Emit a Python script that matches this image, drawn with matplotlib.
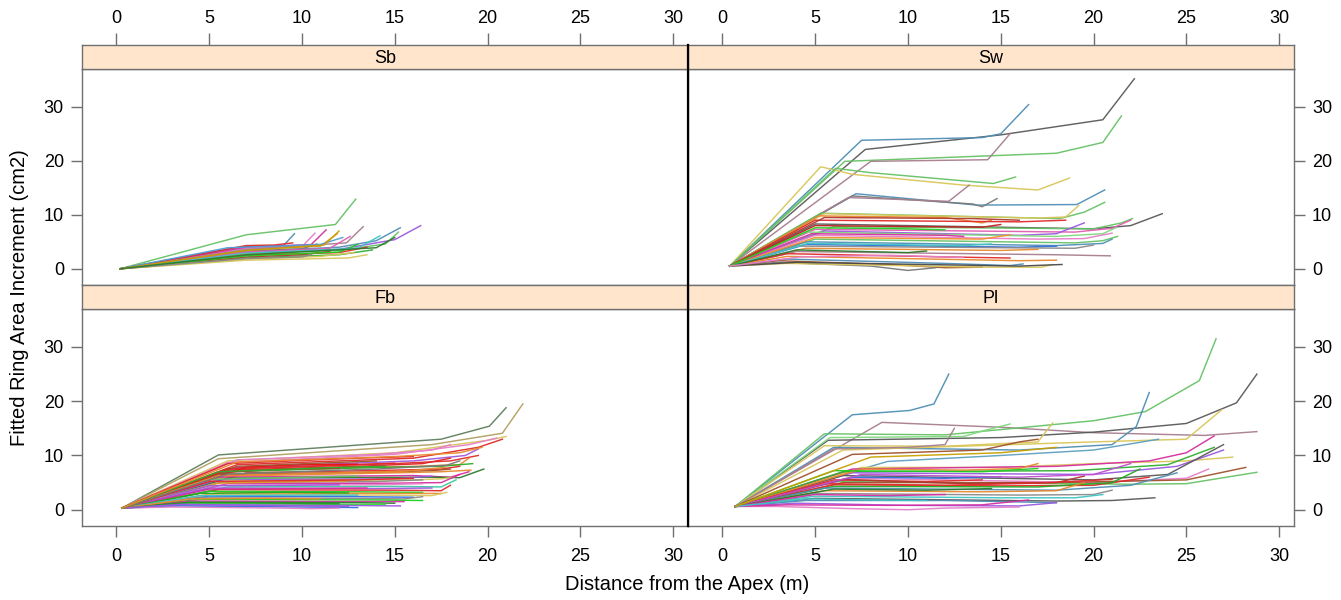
import matplotlib
matplotlib.use("Agg")
import matplotlib.pyplot as plt
from matplotlib.lines import Line2D

plt.rcParams['font.family'] = ['Liberation Sans', 'DejaVu Sans']

# ---------------- data (x = distance from apex, y = fitted ring area increment) ----------------
panel_names = ["Sb", "Sw", "Fb", "Pl"]
x_ticks = [0, 5, 10, 15, 20, 25, 30]
y_ticks = [0, 10, 20, 30]

sb_curves = [
    [(0.2, 0), (7, 6.3), (11.8, 8.2), (12.9, 12.9)],
    [(0.2, 0), (7, 4.2), (9, 4.3), (9.6, 6.5)],
    [(0.2, 0), (7, 3.8), (10, 4.1), (10.7, 6.6)],
    [(0.2, 0), (7, 4.0), (10.5, 4.5), (11.3, 7.2)],
    [(0.2, 0), (7, 3.5), (11, 4.2), (11.9, 6.5)],
    [(0.2, 0), (7, 3.6), (12.4, 4.8), (13.3, 7.8)],
    [(0.2, 0), (7, 3.2), (12, 4.0), (14, 5.2), (15.3, 7.6)],
    [(0.2, 0), (7, 3.0), (12, 3.6), (15, 5.4), (16.4, 8.0)],
    [(0.2, 0), (7, 2.8), (12, 3.4), (14.5, 4.6), (15.2, 6.8)],
    [(0.2, 0), (7, 2.5), (12, 3.0), (13.5, 4.0)],
    [(0.2, 0), (7, 1.6), (12.5, 2.0), (13.5, 2.6)],
    [(0.2, 0), (7, 2.0), (12, 2.6), (13.8, 3.5)],
    [(0.2, 0), (7, 2.2), (10, 2.6), (11.5, 3.2)],
    [(0.2, 0), (7, 3.3), (10, 3.7), (10.8, 4.6)],
    [(0.2, 0), (7, 2.7), (9, 2.9), (10, 3.5)],
    [(0.2, 0), (7, 4.3), (8.5, 4.4), (9.5, 4.8)],
    [(0.2, 0), (7, 1.8), (11, 2.3), (12.8, 3.0)],
    [(0.2, 0), (7, 2.4), (12, 3.1), (13, 4.5)],
    [(0.2, 0), (6, 3.9), (11, 4.5), (12.2, 5.8)],
    [(0.2, 0), (7, 3.1), (11.5, 3.8), (12.6, 6.0)],
    [(0.2, 0), (7, 2.9), (13, 3.8), (14.2, 6.1)],
    [(0.2, 0), (7, 1.9), (10, 2.2), (10.5, 2.6)],
    [(0.2, 0), (7, 3.4), (11.2, 4.4), (12.0, 7.0)],
    [(0.2, 0), (7, 2.6), (14, 3.9), (15.0, 5.8)],
]

sw_curves = [
    [(0.4, 0.5), (7.7, 22.1), (15, 24.8), (20.5, 27.6), (22.2, 35.2)],
    [(0.4, 0.5), (7.5, 23.8), (14, 24.3), (15, 25), (16.5, 30.4)],
    [(0.4, 0.5), (6.6, 19.9), (18, 21.4), (20.5, 23.4), (21.5, 28.3)],
    [(0.4, 0.5), (8, 19.9), (14.3, 20.2), (15.5, 25.0)],
    [(0.4, 0.5), (5.3, 18.9), (7, 17.5), (13, 15.5), (17, 14.6), (18.7, 16.8)],
    [(0.4, 0.5), (6.1, 18.6), (8, 17.8), (14.6, 15.8), (15.8, 17.0)],
    [(0.4, 0.5), (7.2, 13.9), (13.7, 11.8), (19.1, 11.9), (20.6, 14.6)],
    [(0.4, 0.5), (7.0, 13.5), (13.5, 12.0), (14.0, 11.5), (14.8, 13.0)],
    [(0.4, 0.5), (6.8, 13.2), (12.2, 12.5), (13.3, 15.5)],
    [(0.4, 0.5), (5.3, 10.3), (18.2, 9.3), (19.5, 10.5), (20.6, 12.3)],
    [(0.4, 0.5), (5.5, 10.2), (17, 9.4), (18.5, 9.6), (19.2, 11.7)],
    [(0.4, 0.5), (5.2, 9.8), (12, 9.5), (14, 8.5), (14.5, 9.0)],
    [(0.4, 0.5), (5, 9.0), (16, 8.7), (18.5, 9.0)],
    [(0.4, 0.5), (5, 8.3), (20, 7.4), (22, 8.0), (23.7, 10.2)],
    [(0.4, 0.5), (6, 7.8), (20, 7.4), (21.5, 8.5), (22.1, 9.3)],
    [(0.4, 0.5), (5, 7.3), (19, 6.8), (21, 7.5), (22, 9.0)],
    [(0.4, 0.5), (5.5, 7.0), (16, 6.2), (18, 6.5), (19.5, 8.5)],
    [(0.4, 0.5), (4.5, 6.8), (18, 6.0), (20.5, 6.5), (21.2, 7.6)],
    [(0.4, 0.5), (5, 6.2), (17, 5.5), (19.5, 5.6), (21, 6.6)],
    [(0.4, 0.5), (5, 5.5), (19, 4.8), (20.5, 5.2), (21.3, 6.0)],
    [(0.4, 0.5), (4.5, 5.0), (18, 4.3), (20.5, 4.7), (21, 5.5)],
    [(0.4, 0.5), (4.5, 4.5), (16, 4.0), (18, 4.2)],
    [(0.4, 0.5), (4, 4.2), (19, 3.8), (20, 4.4)],
    [(0.4, 0.5), (4.5, 3.8), (15, 3.4), (17, 3.6)],
    [(0.4, 0.5), (4, 3.2), (18, 2.6), (20.9, 2.4)],
    [(0.4, 0.5), (3.5, 2.8), (12, 2.2), (15.5, 2.0)],
    [(0.4, 0.5), (3.5, 2.3), (16, 1.5), (18, 1.6)],
    [(0.4, 0.5), (3.5, 1.8), (12, 1.0), (15.5, 0.6), (16.2, 0.9)],
    [(0.4, 0.5), (3, 1.5), (9, 0.8), (12, 0.2), (14, 0.3)],
    [(0.4, 0.5), (3, 1.2), (8, 0.5), (10, -0.3), (11.5, 0.2)],
    [(0.4, 0.5), (3.5, 1.0), (14, 0.3), (17.2, 0.3), (17.8, 0.8)],
    [(0.4, 0.5), (4, 1.2), (16, 0.5), (18.3, 0.8)],
    [(0.4, 0.5), (5, 8.0), (14, 7.7), (15, 8.2)],
    [(0.4, 0.5), (4.8, 6.5), (12, 6.2), (13, 6.0)],
    [(0.4, 0.5), (5, 5.8), (14, 5.5), (15.5, 6.3)],
    [(0.4, 0.5), (4.6, 4.7), (13, 4.3), (14.5, 4.6)],
    [(0.4, 0.5), (4, 3.5), (10, 3.0), (11, 3.3)],
    [(0.4, 0.5), (5.5, 9.5), (13.5, 9.3), (16, 9.0)],
    [(0.4, 0.5), (5, 7.6), (10, 7.4), (12, 7.2)],
    [(0.4, 0.5), (4.2, 2.2), (9, 2.5), (13, 2.1)],
]

fb_curves = [
    [(0.3, 0.3), (5.5, 10.1), (17.5, 13.0), (20.1, 15.4), (21.0, 18.8)],
    [(0.3, 0.3), (5.5, 9.4), (17, 12.0), (20.8, 14.1), (21.9, 19.5)],
    [(0.3, 0.3), (6, 9.0), (15, 10.5), (20, 12.8), (21, 13.5)],
    [(0.3, 0.3), (6, 8.7), (15, 10.2), (19, 12.0), (20.5, 13.2)],
    [(0.3, 0.3), (6.5, 8.3), (16, 9.5), (19.5, 11.5), (20.8, 13.0)],
    [(0.3, 0.3), (6.5, 7.8), (16, 9.0), (18.8, 10.0), (19.5, 11.2)],
    [(0.3, 0.3), (6, 7.5), (15, 8.5), (18, 9.0), (19.5, 10.0)],
    [(0.3, 0.3), (6.5, 7.2), (16, 8.0), (18.5, 8.3), (19, 9.5)],
    [(0.3, 0.3), (6, 7.0), (14, 7.8), (17.5, 8.0), (19.2, 8.5)],
    [(0.3, 0.3), (7, 6.8), (15, 7.3), (17.5, 7.5), (18.5, 8.0)],
    [(0.3, 0.3), (6, 6.5), (15, 7.0), (17, 7.2), (18, 7.5)],
    [(0.3, 0.3), (6, 6.2), (15, 6.8), (17.5, 7.0), (19.1, 7.3)],
    [(0.3, 0.3), (5.5, 6.0), (16, 6.3), (18, 6.0), (19, 7.0)],
    [(0.3, 0.3), (6, 5.8), (17, 6.0), (18.5, 5.9), (19.8, 7.5)],
    [(0.3, 0.3), (5.5, 5.5), (15, 5.7), (17, 6.2)],
    [(0.3, 0.3), (6, 5.3), (16, 5.5), (17.5, 5.7), (18.2, 6.0)],
    [(0.3, 0.3), (5.5, 5.0), (14, 5.2), (16.5, 5.5)],
    [(0.3, 0.3), (6, 4.8), (15, 4.9), (17.5, 5.0), (18.5, 6.5)],
    [(0.3, 0.3), (5.5, 4.5), (14, 4.6), (16.5, 4.8)],
    [(0.3, 0.3), (6, 4.2), (15, 4.3), (17.5, 4.2), (18.3, 5.5)],
    [(0.3, 0.3), (5, 4.0), (14, 3.9), (17, 4.0)],
    [(0.3, 0.3), (5.5, 3.7), (15, 3.6), (17.5, 3.5), (18, 4.5)],
    [(0.3, 0.3), (5, 3.4), (13, 3.3), (16.5, 3.2)],
    [(0.3, 0.3), (5.5, 3.1), (15, 3.0), (17.5, 3.0)],
    [(0.3, 0.3), (5, 2.8), (14, 2.7), (17, 2.6), (17.8, 3.2)],
    [(0.3, 0.3), (5, 2.5), (13, 2.4), (16, 2.3)],
    [(0.3, 0.3), (4.5, 2.2), (12, 2.1), (15.5, 2.0), (16.5, 2.4)],
    [(0.3, 0.3), (4.5, 1.9), (14, 1.8), (16.5, 1.7)],
    [(0.3, 0.3), (4, 1.6), (12, 1.5), (15.5, 1.5)],
    [(0.3, 0.3), (4, 1.4), (13, 1.3), (15, 1.2)],
    [(0.3, 0.3), (4, 1.1), (11, 1.0), (14.5, 1.0)],
    [(0.3, 0.3), (3.5, 0.9), (12, 0.8), (15.3, 0.7)],
    [(0.3, 0.3), (3.5, 0.7), (10, 0.5), (13, 0.4)],
    [(0.3, 0.3), (3, 0.5), (9, 0.3), (10.5, 0.2), (12, 0.3)],
    [(0.3, 0.3), (6, 7.6), (12, 8.2), (15, 8.6)],
    [(0.3, 0.3), (7, 7.9), (10, 8.3), (13, 8.4)],
    [(0.3, 0.3), (6, 6.9), (9, 7.5), (12, 7.6)],
    [(0.3, 0.3), (6.5, 8.0), (11, 8.6), (14, 9.0)],
    [(0.3, 0.3), (5, 5.6), (10, 6.0), (13, 6.2)],
    [(0.3, 0.3), (5.5, 4.9), (10, 5.2), (12.5, 5.3)],
    [(0.3, 0.3), (5, 4.4), (9, 4.5), (12, 4.6)],
    [(0.3, 0.3), (5, 3.8), (10, 3.9), (13.5, 4.0)],
    [(0.3, 0.3), (4.5, 3.0), (9, 3.2), (12.5, 3.1)],
    [(0.3, 0.3), (4.5, 2.6), (10, 2.7), (13, 2.7)],
    [(0.3, 0.3), (4, 2.0), (8, 2.1), (11, 2.0)],
    [(0.3, 0.3), (4, 1.3), (9, 1.2), (12, 1.1)],
    [(0.3, 0.3), (3.5, 1.0), (8, 0.8), (12.5, 0.6)],
    [(0.3, 0.3), (6.5, 9.2), (14, 10.2), (17, 11.0), (18, 12.0)],
    [(0.3, 0.3), (6, 8.5), (13, 9.5), (16, 9.8)],
    [(0.3, 0.3), (6, 7.3), (13, 8.0), (16.5, 8.5), (18, 9.5)],
    [(0.3, 0.3), (5.5, 6.3), (12, 6.8), (15.5, 7.1), (17.7, 7.8)],
    [(0.3, 0.3), (5, 5.2), (13, 5.5), (16, 5.8)],
    [(0.3, 0.3), (6, 6.6), (14, 7.5), (17.8, 8.2), (18.5, 9.0)],
    [(0.3, 0.3), (5.5, 7.0), (11, 7.7), (14.5, 8.0)],
    [(0.3, 0.3), (6.5, 8.8), (15, 9.8), (18.5, 10.5), (19.7, 11.5)],
]

pl_curves = [
    [(0.7, 0.6), (7.0, 17.5), (10.1, 18.3), (11.4, 19.5), (12.2, 25.0)],
    [(0.7, 0.6), (8.6, 16.1), (15, 15.2), (20, 14.2), (26, 13.7), (28.8, 14.4)],
    [(0.7, 0.6), (5.5, 14.0), (12, 13.8), (20, 16.4), (22.8, 18.1), (25.7, 23.8), (26.6, 31.5)],
    [(0.7, 0.6), (5.7, 12.8), (15, 13.3), (20, 14.3), (25, 15.9), (27.7, 19.7), (28.8, 25.0)],
    [(0.7, 0.6), (5.8, 13.3), (13, 13.5), (14, 14.5), (15.5, 15.8)],
    [(0.7, 0.6), (6, 11.5), (16, 11.0), (21, 12.0), (22.3, 15.3), (23, 21.6)],
    [(0.7, 0.6), (5.5, 11.8), (12, 11.7), (17, 12.5), (17.8, 16.0)],
    [(0.7, 0.6), (6.5, 11.0), (20, 12.5), (25, 13.0), (26.9, 18.4)],
    [(0.7, 0.6), (6, 11.2), (10, 11.5), (12, 12.0), (12.5, 15.0)],
    [(0.7, 0.6), (7, 10.2), (14, 11.0), (16, 12.5), (17, 13.0)],
    [(0.7, 0.6), (8.9, 8.9), (15, 10.0), (20, 11.0), (23.5, 13.0)],
    [(0.7, 0.6), (7.5, 7.8), (15, 7.8), (20, 8.5), (25, 9.0), (27.5, 9.7)],
    [(0.7, 0.6), (7, 7.5), (18, 8.0), (23, 9.0), (25, 10.5), (26.5, 13.6)],
    [(0.7, 0.6), (6.5, 7.0), (19, 7.2), (24, 8.3), (26.5, 11.5)],
    [(0.7, 0.6), (7, 6.8), (20, 6.5), (24.5, 8.0), (27, 11.0)],
    [(0.7, 0.6), (6.5, 6.3), (20, 5.5), (24, 6.5), (27, 12.0)],
    [(0.7, 0.6), (7, 5.8), (20, 5.0), (25, 5.8), (26.2, 7.5)],
    [(0.7, 0.6), (6, 5.2), (22, 4.7), (25, 4.8), (28.8, 6.9)],
    [(0.7, 0.6), (6.5, 5.0), (18, 5.0), (25, 5.5), (28.2, 7.8)],
    [(0.7, 0.6), (6, 4.6), (15, 4.4), (20, 4.5), (23, 6.0)],
    [(0.7, 0.6), (6, 4.3), (17, 4.2), (21, 5.0), (22.5, 7.5)],
    [(0.7, 0.6), (5.5, 4.0), (18, 3.6), (22, 4.5), (24.5, 6.8)],
    [(0.7, 0.6), (5.5, 3.5), (14, 3.3), (18, 3.5), (19.5, 5.0)],
    [(0.7, 0.6), (5, 3.0), (16, 2.7), (20, 2.8), (21, 3.6)],
    [(0.7, 0.6), (5, 2.5), (15, 2.2), (19, 2.2), (20.5, 2.8)],
    [(0.7, 0.6), (5, 2.1), (18, 1.6), (21, 1.7), (23.3, 2.2)],
    [(0.7, 0.6), (4.5, 1.7), (12, 1.7), (18, 1.3)],
    [(0.7, 0.6), (4, 1.2), (10, 0.8), (16, 0.7), (18, 1.3)],
    [(0.7, 0.6), (3, 0.6), (7, 0.2), (10, 0.0), (12, 0.3), (16, 0.5)],
    [(0.7, 0.6), (3.5, 0.9), (9, 0.8), (14, 0.9), (16.5, 1.8)],
    [(0.7, 0.6), (7.5, 7.5), (13, 7.3), (16, 7.6), (17, 8.5)],
    [(0.7, 0.6), (7, 6.0), (12, 5.8), (15, 6.1)],
    [(0.7, 0.6), (6, 5.5), (11, 5.2), (14, 5.5)],
    [(0.7, 0.6), (6.5, 5.6), (13, 4.8), (18, 5.0), (19.5, 6.2)],
    [(0.7, 0.6), (5.5, 4.8), (12, 4.5), (17, 4.9), (21, 5.6)],
    [(0.7, 0.6), (6, 7.2), (14, 7.0), (17, 7.6)],
    [(0.7, 0.6), (7.5, 6.5), (16, 6.0), (20, 6.5), (22, 8.5)],
    [(0.7, 0.6), (6, 3.8), (11, 3.6), (14.5, 3.9)],
    [(0.7, 0.6), (5, 2.8), (9, 2.6), (12, 2.8)],
    [(0.7, 0.6), (4.5, 2.0), (8, 1.8), (11, 1.7)],
    [(0.7, 0.6), (8, 9.7), (15, 10.5), (18, 11.5)],
]

x_label = "Distance from the Apex (m)"
y_label = "Fitted Ring Area Increment (cm2)"

# ---------------- style ----------------
sb_cols = ['#66c266', '#4f8fb5', '#e57fc8', '#d62fa0', '#e8892e', '#a77f8f', '#4f8fb5',
           '#9b59e0', '#66c266', '#e02b2b', '#d9c65a', '#2fae2f', '#b03a2e', '#7a7a7a',
           '#e8892e', '#e02b2b', '#d9c65a', '#22cc22', '#4f9fd5', '#e05fb0', '#40c4c4',
           '#8a8a8a', '#c8a000', '#2f7a2f']
sw_cols = ['#5a5a5a', '#4f8fb5', '#66c266', '#a77f8f', '#d9c65a', '#66c266', '#4f8fb5',
           '#7a7a7a', '#a77f8f', '#66c266', '#d9c65a', '#e8892e', '#e02b2b', '#5a5a5a',
           '#66c266', '#e05fb0', '#9b59e0', '#7fd97f', '#e57fc8', '#66c266', '#4f8fb5',
           '#2f6fe0', '#8a8a8a', '#e8892e', '#a77f8f', '#e02b2b', '#e8892e', '#4f8fb5',
           '#a0522d', '#7a7a7a', '#d9c65a', '#4a4a4a', '#c02020', '#d62fa0', '#f0902e',
           '#40c4c4', '#2f7a2f', '#b03a2e', '#22cc22', '#e57fc8']
fb_cols = ['#5f7f5f', '#b0a060', '#d9c65a', '#e57fc8', '#e02b2b', '#9b59e0', '#e02b2b',
           '#e8892e', '#2fae2f', '#e02b2b', '#a0522d', '#e8892e', '#d62fa0', '#2f7a2f',
           '#9b59e0', '#d9c65a', '#8a8a8a', '#d62fa0', '#e57fc8', '#40c4a0', '#9b59e0',
           '#e02b2b', '#22cc22', '#e8892e', '#d9c65a', '#2f6fe0', '#8a8a8a', '#22cc22',
           '#d62fa0', '#2f7a2f', '#33dd33', '#9b59e0', '#2f6fe0', '#e57fc8', '#e02b2b',
           '#ee1111', '#b03a2e', '#a0522d', '#66c266', '#e0a020', '#9b59e0', '#d62fa0',
           '#22aa22', '#40c4c4', '#e8892e', '#1f9f1f', '#9b59e0', '#e57fc8', '#e02b2b',
           '#dd2222', '#e8892e', '#e02b2b', '#7a7a7a', '#2fae2f', '#e8892e']
pl_cols = ['#4f8fb5', '#a77f8f', '#66c266', '#5a5a5a', '#7fd97f', '#4f8fb5', '#d9c65a',
           '#d9c65a', '#a77f8f', '#a0522d', '#5fa0c0', '#d9c65a', '#d62fa0', '#2fae2f',
           '#9b59e0', '#5a5a5a', '#e57fc8', '#66c266', '#a0522d', '#e02b2b', '#22aa22',
           '#4f8fb5', '#e8892e', '#8a8a8a', '#40c4c4', '#5a5a5a', '#4f8fb5', '#9b59e0',
           '#e57fc8', '#d62fa0', '#e8892e', '#2f6fe0', '#e02b2b', '#b03a2e', '#e02b2b',
           '#22cc22', '#c050d0', '#2f7a2f', '#d62fa0', '#40c4c4', '#c8a000']

strip_col = '#ffe5cc'
frame_col = '#707070'
tick_size = 13
label_size = 14.5

fig = plt.figure(figsize=(13.41, 6.0), dpi=100)
W, H = 1341.0, 600.0

def fx(px):
    return px / W

def fy(py):
    return 1 - py / H

xl, xm, xr = 82, 688, 1294
panels = {
    "Sb": (xl, xm, 69, 285, sb_curves, sb_cols, 'top', 'left'),
    "Sw": (xm, xr, 69, 285, sw_curves, sw_cols, 'top', 'right'),
    "Fb": (xl, xm, 309, 526, fb_curves, fb_cols, 'bottom', 'left'),
    "Pl": (xm, xr, 309, 526, pl_curves, pl_cols, 'bottom', 'right'),
}
strip_h = 24
XLIM = (-1.85, 30.8)
YLIM = (-3.0, 37.0)

for name in panel_names:
    x0, x1, ytop, ybot, curves, cols, xside, yside = panels[name]
    ax = fig.add_axes([fx(x0), fy(ybot), fx(x1) - fx(x0), fy(ytop) - fy(ybot)])
    for i, c in enumerate(curves):
        xs = [p[0] for p in c]
        ys = [p[1] for p in c]
        ax.plot(xs, ys, color=cols[i % len(cols)], lw=1.05, alpha=0.95,
                solid_joinstyle='round')
    ax.set_xlim(*XLIM)
    ax.set_ylim(*YLIM)
    for s in ax.spines.values():
        s.set_color(frame_col)
        s.set_linewidth(1.0)
    ax.set_yticks(y_ticks)
    if yside == 'left':
        ax.tick_params(axis='y', left=True, right=False, labelleft=True, labelright=False)
    else:
        ax.tick_params(axis='y', left=False, right=True, labelleft=False, labelright=True)
    ax.tick_params(axis='y', direction='out', length=8, width=1.0, color=frame_col,
                   labelsize=tick_size, pad=5)
    ax.set_xticks(x_ticks)
    if xside == 'bottom':
        ax.tick_params(axis='x', bottom=True, top=False, labelbottom=True, labeltop=False,
                       direction='out', length=8, width=1.0, color=frame_col,
                       labelsize=tick_size, pad=8)
    else:
        ax.tick_params(axis='x', bottom=False, top=False, labelbottom=False, labeltop=False)

    # strip
    sax = fig.add_axes([fx(x0), fy(ytop), fx(x1) - fx(x0), strip_h / H])
    sax.set_facecolor(strip_col)
    sax.set_xlim(*XLIM)
    sax.set_ylim(0, 1)
    sax.set_yticks([])
    for s in sax.spines.values():
        s.set_color(frame_col)
        s.set_linewidth(1.0)
    sax.text(0.5, 0.45, name, transform=sax.transAxes, ha='center', va='center',
             fontsize=tick_size)
    if xside == 'top':
        sax.set_xticks(x_ticks)
        sax.tick_params(axis='x', bottom=False, top=True, labelbottom=False, labeltop=True,
                        direction='out', length=9, width=1.0, color=frame_col,
                        labelsize=tick_size, pad=4)
    else:
        sax.set_xticks([])

# heavy divider between the two columns
fig.add_artist(Line2D([fx(xm), fx(xm)], [fy(526), fy(45)], color='black', lw=1.6))

fig.text(fx(687), fy(585), x_label, ha='center', va='center', fontsize=label_size)
fig.text(fx(20), fy(298), y_label, ha='center', va='center', rotation=90, fontsize=label_size)

fig.savefig("out.png", dpi=100, facecolor='white')
